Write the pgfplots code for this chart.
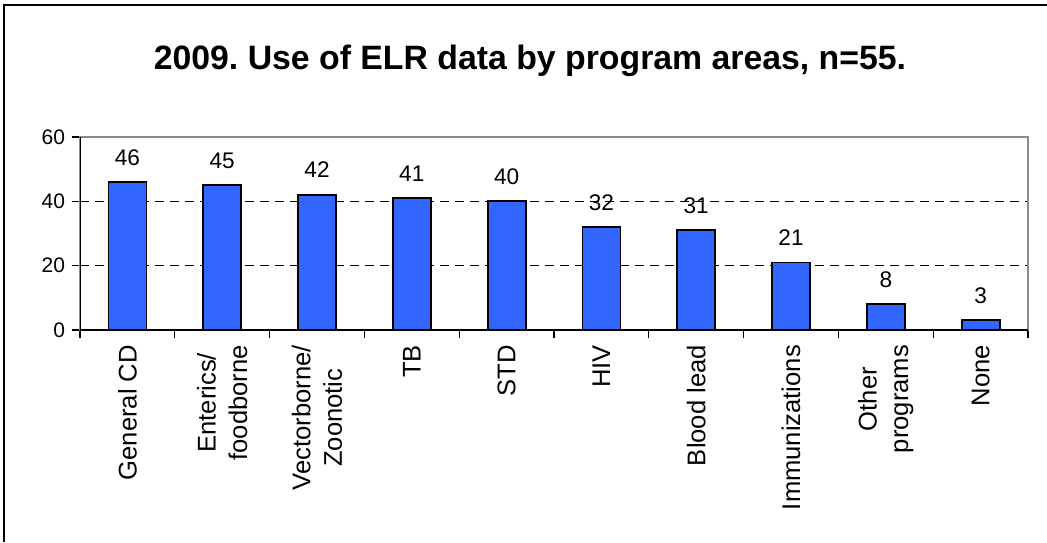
\documentclass[border=0pt]{standalone}
\usepackage{pgfplots}
\pgfplotsset{compat=1.18}
\usepackage{fontspec}
\setmainfont{Liberation Sans}
\definecolor{barblue}{RGB}{51,102,255}
\begin{document}
\frenchspacing
\begin{tikzpicture}
\useasboundingbox (0,0) rectangle (523.5pt,271pt);
\draw[line width=1pt] (2pt,0) -- (2pt,268.5pt) -- (523.5pt,268.5pt);
\node[font=\bfseries\fontsize{16.9}{20}\selectfont, anchor=base] at (265pt,236.5pt) {2009. Use of ELR data by program areas, n=55.};
\begin{axis}[
  at={(40pt,106pt)}, anchor=south west,
  scale only axis, width=474pt, height=96.5pt,
  xmin=-0.5, xmax=9.5, ymin=0, ymax=60,
  ytick={0,20,40,60},
  xtick={0,...,9},
  xticklabels={General CD,Enterics/\\foodborne,Vectorborne/\\Zoonotic,TB,STD,HIV,Blood lead,Immunizations,Other\\programs,None},
  minor xtick={-0.5,0.5,...,9.5},
  tick align=outside, tick pos=left,
  major tick length=4pt, minor tick length=4pt,
  xtick style={draw=none},
  minor x tick style={draw=black, line width=0.6pt},
  ytick style={black, line width=0.6pt},
  axis line style={draw=gray!90, line width=0.6pt},
  ymajorgrids,
  grid style={black, dash pattern=on 4.5pt off 3pt, line width=0.5pt},
  /pgf/number format/assume math mode=true,
  yticklabel style={font=\fontsize{10.5}{12}\selectfont},
  xticklabel style={rotate=90, anchor=east, align=center, font=\fontsize{12.8}{15.8}\selectfont},
  ybar, bar width=19pt,
  nodes near coords,
  every node near coord/.append style={font=\fontsize{11.3}{13}\selectfont, inner sep=0pt, anchor=base, yshift=8.5pt},
]
\addplot[fill=barblue, draw=black, line width=0.9pt] coordinates {
(0,46) (1,45) (2,42) (3,41) (4,40) (5,32) (6,31) (7,21) (8,8) (9,3)};
\draw[black, line width=0.7pt] (rel axis cs:0,1) -- (rel axis cs:0,0) -- (rel axis cs:1,0);
\end{axis}
\end{tikzpicture}
\end{document}
